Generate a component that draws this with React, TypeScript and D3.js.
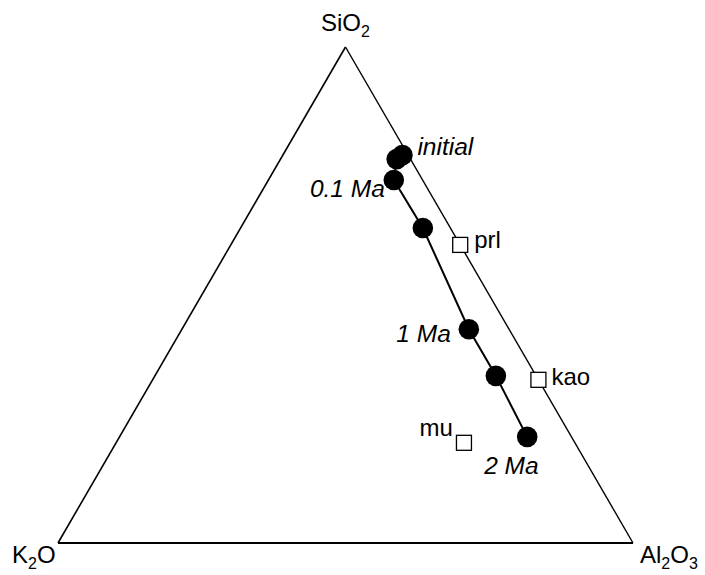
import React from "react";
import * as d3 from "d3";

// Weathering path compositions (mole fractions) through time
const pathLabels = ["initial", "", "0.1 Ma", "", "1 Ma", "", "2 Ma"];
const pathSiO2 = [0.782, 0.774, 0.732, 0.635, 0.431, 0.337, 0.214];
const pathK2O = [0.010, 0.024, 0.050, 0.048, 0.070, 0.070, 0.077];
const pathAl2O3 = [0.208, 0.202, 0.218, 0.317, 0.499, 0.593, 0.709];

// Reference minerals
const mineralNames = ["prl", "kao", "mu"];
const mineralSiO2 = [0.601, 0.329, 0.202];
const mineralK2O = [0.0, 0.0, 0.193];
const mineralAl2O3 = [0.399, 0.671, 0.605];

const W = 705;
const H = 575;
const FONT = "Liberation Sans, Arial, Helvetica, sans-serif";

// Ternary projection: SiO2 at apex, K2O bottom-left, Al2O3 bottom-right
const xScale = d3.scaleLinear().domain([0, 1]).range([58, 633]);
const yScale = d3.scaleLinear().domain([0, 1]).range([543, 47]);
const project = (si: number, _k: number, al: number): [number, number] => [
  xScale(al + si / 2),
  yScale(si),
];

// Label placement relative to each mark
const pathLabelOffsets: Record<string, [number, number, "start" | "end"]> = {
  initial: [15, 0, "start"],
  "0.1 Ma": [-9, 17, "end"],
  "1 Ma": [-18, 13, "end"],
  "2 Ma": [-43, 37, "start"],
};
const mineralLabelOffsets: Record<string, [number, number, "start" | "end"]> = {
  prl: [14, 3, "start"],
  kao: [13, 5, "start"],
  mu: [-11, -7, "end"],
};

export default function App() {
  const pts = pathSiO2.map((s, i) => project(s, pathK2O[i], pathAl2O3[i]));
  const minerals = mineralSiO2.map((s, i) =>
    project(s, mineralK2O[i], mineralAl2O3[i])
  );
  const apex = project(1, 0, 0);
  const left = project(0, 1, 0);
  const right = project(0, 0, 1);
  const line = d3.line();
  const sq = 15;

  return (
    <svg
      width={W}
      height={H}
      style={{ position: "absolute", left: 0, top: 0, background: "#fff" }}
      fontFamily={FONT}
    >
      {/* triangle frame */}
      <path
        d={line([apex, right])!}
        stroke="#000"
        strokeWidth={1.4}
        fill="none"
      />
      <path
        d={line([apex, left])!}
        stroke="#000"
        strokeWidth={1.6}
        fill="none"
      />
      <path
        d={line([left, right])!}
        stroke="#000"
        strokeWidth={2}
        fill="none"
      />

      {/* apex labels */}
      <text x={321} y={31} fontSize={24}>
        SiO<tspan fontSize={16} dy={6}>2</tspan>
      </text>
      <text x={12} y={563} fontSize={24}>
        K<tspan fontSize={16} dy={6}>2</tspan>
        <tspan dy={-6}>O</tspan>
      </text>
      <text x={640} y={563} fontSize={24}>
        Al<tspan fontSize={16} dy={6}>2</tspan>
        <tspan dy={-6}>O</tspan>
        <tspan fontSize={16} dy={6}>3</tspan>
      </text>

      {/* weathering path */}
      <path d={line(pts)!} stroke="#000" strokeWidth={2} fill="none" />
      {pts.map((p, i) => (
        <circle key={i} cx={p[0]} cy={p[1]} r={10.3} fill="#000" />
      ))}
      {pts.map((p, i) => {
        const lab = pathLabels[i];
        if (!lab) return null;
        const [dx, dy, anchor] = pathLabelOffsets[lab];
        return (
          <text
            key={"l" + i}
            x={p[0] + dx}
            y={p[1] + dy}
            fontSize={24.5}
            fontStyle="italic"
            textAnchor={anchor}
          >
            {lab}
          </text>
        );
      })}

      {/* minerals */}
      {minerals.map((p, i) => (
        <rect
          key={"m" + i}
          x={p[0] - sq / 2}
          y={p[1] - sq / 2}
          width={sq}
          height={sq}
          fill="#fff"
          stroke="#000"
          strokeWidth={1.3}
        />
      ))}
      {minerals.map((p, i) => {
        const [dx, dy, anchor] = mineralLabelOffsets[mineralNames[i]];
        return (
          <text
            key={"ml" + i}
            x={p[0] + dx}
            y={p[1] + dy}
            fontSize={24}
            textAnchor={anchor}
          >
            {mineralNames[i]}
          </text>
        );
      })}
    </svg>
  );
}
